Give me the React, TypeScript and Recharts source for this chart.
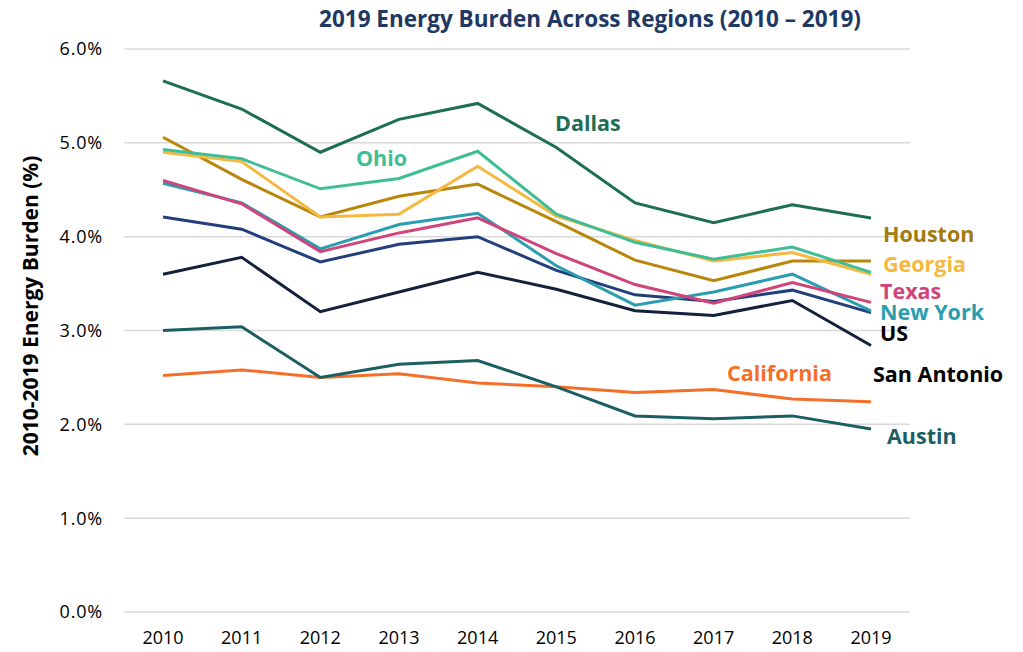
import React from 'react';
import { LineChart, Line, XAxis, YAxis, CartesianGrid } from 'recharts';

const years = ['2010', '2011', '2012', '2013', '2014', '2015', '2016', '2017', '2018', '2019'];
const dallas = [5.66, 5.36, 4.9, 5.25, 5.42, 4.95, 4.36, 4.15, 4.34, 4.2];
const ohio = [4.93, 4.83, 4.51, 4.62, 4.91, 4.24, 3.94, 3.76, 3.89, 3.62];
const georgia = [4.9, 4.8, 4.21, 4.24, 4.75, 4.22, 3.96, 3.74, 3.83, 3.6];
const houston = [5.06, 4.61, 4.21, 4.43, 4.56, 4.16, 3.75, 3.53, 3.74, 3.74];
const texas = [4.6, 4.35, 3.84, 4.04, 4.2, 3.82, 3.49, 3.29, 3.51, 3.3];
const newYork = [4.57, 4.36, 3.87, 4.13, 4.25, 3.69, 3.27, 3.41, 3.6, 3.21];
const us = [4.21, 4.08, 3.73, 3.92, 4.0, 3.64, 3.38, 3.31, 3.43, 3.19];
const sanAntonio = [3.6, 3.78, 3.2, 3.41, 3.62, 3.44, 3.21, 3.16, 3.32, 2.84];
const austin = [3.0, 3.04, 2.5, 2.64, 2.68, 2.4, 2.09, 2.06, 2.09, 1.95];
const california = [2.52, 2.58, 2.5, 2.54, 2.44, 2.4, 2.34, 2.37, 2.27, 2.24];
const yTicks = [0, 1, 2, 3, 4, 5, 6];

const data = years.map((y, i) => ({
  year: y,
  dallas: dallas[i],
  ohio: ohio[i],
  georgia: georgia[i],
  houston: houston[i],
  texas: texas[i],
  newYork: newYork[i],
  us: us[i],
  sanAntonio: sanAntonio[i],
  austin: austin[i],
  california: california[i],
}));

const series = [
  { key: 'california', color: '#F36F2A' },
  { key: 'austin', color: '#1B5E63' },
  { key: 'sanAntonio', color: '#14213D' },
  { key: 'us', color: '#233F7A' },
  { key: 'newYork', color: '#2A9DB0' },
  { key: 'texas', color: '#D0447A' },
  { key: 'houston', color: '#B8860B' },
  { key: 'georgia', color: '#F5B942' },
  { key: 'ohio', color: '#3DBE96' },
  { key: 'dallas', color: '#1E6E55' },
];

const labels = [
  { text: 'Dallas', x: 555, y: 123, color: '#1E6E55' },
  { text: 'Ohio', x: 356, y: 158, color: '#3DBE96' },
  { text: 'California', x: 727, y: 373, color: '#F36F2A' },
  { text: 'Houston', x: 883, y: 234, color: '#A47A0E' },
  { text: 'Georgia', x: 883, y: 264, color: '#F5B942' },
  { text: 'Texas', x: 880, y: 291, color: '#D0447A' },
  { text: 'New York', x: 880, y: 312, color: '#2A9DB0' },
  { text: 'US', x: 880, y: 333, color: '#000000' },
  { text: 'San Antonio', x: 873, y: 374, color: '#000000' },
  { text: 'Austin', x: 887, y: 436, color: '#1B5E63' },
];

const font = '"Open Sans", "Noto Sans", sans-serif';

export default function App() {
  return (
    <div style={{ position: 'absolute', left: 0, top: 0, width: 1023, height: 652, background: '#fff', fontFamily: font }}>
      <LineChart width={1023} height={652} data={data} margin={{ top: 49, right: 113, bottom: 0, left: 0 }}>
        <CartesianGrid vertical={false} stroke="#D9D9D9" strokeWidth={1.5} />
        <XAxis
          dataKey="year"
          padding={{ left: 39, right: 39 }}
          axisLine={false}
          tickLine={false}
          tickSize={0}
          tickMargin={19}
          height={40}
          tick={{ fill: '#000', fontSize: 18, fontFamily: font }}
        />
        <YAxis
          width={124}
          domain={[0, 6]}
          ticks={yTicks}
          axisLine={false}
          tickLine={false}
          tickSize={0}
          tickMargin={21}
          tickFormatter={(v) => `${Number(v).toFixed(1)}%`}
          tick={{ fill: '#000', fontSize: 18, fontFamily: font, letterSpacing: 0.8 }}
        />
        {series.map((s) => (
          <Line
            key={s.key}
            type="linear"
            dataKey={s.key}
            stroke={s.color}
            strokeWidth={3}
            dot={false}
            isAnimationActive={false}
          />
        ))}
      </LineChart>
      <div
        style={{
          position: 'absolute',
          left: 590,
          top: 19,
          transform: 'translate(-50%, -50%)',
          whiteSpace: 'nowrap',
          fontWeight: 700,
          fontSize: 22.5,
          lineHeight: 1,
          color: '#203864',
        }}
      >
        2019 Energy Burden Across Regions (2010 – 2019)
      </div>
      <div
        style={{
          position: 'absolute',
          left: 30,
          top: 306,
          transform: 'translate(-50%, -50%) rotate(-90deg)',
          whiteSpace: 'nowrap',
          fontWeight: 700,
          fontSize: 21,
          lineHeight: 1,
          color: '#000',
        }}
      >
        2010-2019 Energy Burden (%)
      </div>
      {labels.map((l) => (
        <div
          key={l.text}
          style={{
            position: 'absolute',
            left: l.x,
            top: l.y,
            transform: 'translateY(-50%)',
            whiteSpace: 'nowrap',
            fontWeight: 700,
            fontSize: 21.5,
            lineHeight: 0.85,
            color: l.color,
          }}
        >
          {l.text}
        </div>
      ))}
    </div>
  );
}
